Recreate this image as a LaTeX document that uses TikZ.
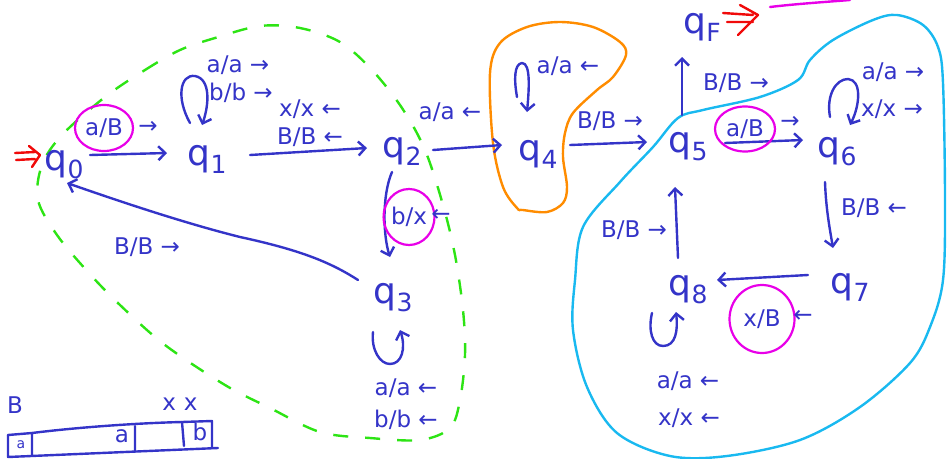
\documentclass[tikz,border=0pt]{standalone}
\usepackage{fontspec}
\setmainfont{DejaVu Sans}
\usetikzlibrary{arrows.meta,shapes.geometric}
\definecolor{ink}{RGB}{52,52,200}
\definecolor{grn}{RGB}{45,228,20}
\definecolor{mag}{RGB}{232,0,232}
\definecolor{org}{RGB}{255,140,0}
\definecolor{cyn}{RGB}{25,185,240}
\definecolor{rd}{RGB}{240,10,10}
\newcommand\qsub[2]{#1\kern0.5pt\raisebox{-0.45ex}{\fontsize{25}{25}\selectfont #2}}
\begin{document}
\begin{tikzpicture}[x=1pt,y=-1pt,
  state/.style={text=ink,font=\fontsize{36}{36}\selectfont,inner sep=0pt,anchor=base},
  lbl/.style={text=ink,font=\fontsize{23}{24}\selectfont,inner sep=0pt},
  circled/.style={lbl,draw=mag,line width=2.2pt,ellipse,inner sep=0pt},
  conn/.style={draw=ink,line width=2.4pt,line cap=round,line join=round,
    -{Straight Barb[length=7pt,width=14pt,line width=2.4pt]}},
  inkpen/.style={draw=ink,line width=2.4pt,line cap=round,line join=round},
  redpen/.style={draw=rd,line width=2.4pt,line cap=round,line join=round},
  greenblob/.style={draw=grn,line width=2.4pt,dash pattern=on 15pt off 17pt},
  orangeblob/.style={draw=org,line width=2.4pt},
  cyanblob/.style={draw=cyn,line width=2.4pt},
  magpen/.style={draw=mag,line width=2.4pt,line cap=round}]
\useasboundingbox (0,0) rectangle (947,458);

% regions
\draw[greenblob] plot[smooth cycle,tension=0.55] coordinates {(105,97) (145,70) (180,50) (215,38) (260,26) (300,28) (340,42) (372,70) (402,108) (425,150) (443,205) (455,255) (463,310) (465,355) (460,400) (450,428) (420,440) (370,438) (320,432) (270,408) (225,385) (165,345) (120,305) (88,272) (57,235) (38,200) (42,165) (62,135)};
\draw[orangeblob] plot[smooth cycle,tension=0.55] coordinates {(517,208) (503,187) (493,143) (490,73) (500,43) (527,27) (560,22) (593,27) (620,42) (626,55) (613,77) (597,90) (573,113) (565,133) (563,157) (567,187) (563,203) (547,212) (523,210)};
\draw[cyanblob] plot[smooth cycle,tension=0.55] coordinates {(620,182) (653,147) (678,118) (703,110) (760,97) (798,80) (810,60) (833,40) (873,20) (897,15) (923,25) (938,47) (943,83) (945,200) (943,280) (930,327) (910,363) (860,407) (800,440) (727,456) (670,456) (617,433) (587,387) (573,330) (575,280) (583,227)};
\draw[magpen] (770,7) .. controls (795,4) and (825,2) .. (850,0);

% states
\node[state] (q0) at (64,170) {\qsub{q}{0}};
\node[state] (q1) at (207,165) {\qsub{q}{1}};
\node[state] (q2) at (402,157) {\qsub{q}{2}};
\node[state] (q3) at (393,303) {\qsub{q}{3}};
\node[state] (q4) at (538,160) {\qsub{q}{4}};
\node[state] (q5) at (688,152) {\qsub{q}{5}};
\node[state] (q6) at (837,157) {\qsub{q}{6}};
\node[state] (q7) at (850,293) {\qsub{q}{7}};
\node[state] (q8) at (688,295) {\qsub{q}{8}};
\node[state] (qF) at (702,33) {\qsub{q}{F}};

% start / final markers
\draw[redpen] (15,153) -- (35,152) (16,160) -- (35,159) (29,146) -- (40,155) -- (32,167);
\draw[redpen] (723,13) -- (753,15) (727,22) -- (753,22) (740,5) -- (758,15) -- (738,35);

% transitions
\draw[conn] ([shift={(26,-15)}]q0.base) -- ([shift={(-40,-12)}]q1.base);
\draw[conn] ([shift={(43,-10)}]q1.base) -- ([shift={(-35,-9)}]q2.base);
\draw[conn] ([shift={(31,-7)}]q2.base) -- ([shift={(-36,-15)}]q4.base);
\draw[conn] ([shift={(32,-15)}]q4.base) -- ([shift={(-41,-10)}]q5.base);
\draw[conn] ([shift={(37,-9)}]q5.base) -- ([shift={(-34,-17)}]q6.base);
\draw[conn] ([shift={(-6,-37)}]q5.base) -- ([shift={(-20,24)}]qF.base);
\draw[conn] ([shift={(-12,25)}]q6.base) .. controls (826,210) and (830,230) .. ([shift={(-17,-45)}]q7.base);
\draw[conn] ([shift={(-42,-18)}]q7.base) -- ([shift={(29,-15)}]q8.base);
\draw[conn] ([shift={(-10,-37)}]q8.base) -- ([shift={(-13,35)}]q5.base);
\draw[conn] ([shift={(-10,15)}]q2.base) .. controls (382,195) and (383,235) .. ([shift={(-3,-46)}]q3.base);
\draw[conn] ([shift={(-35,-23)}]q3.base) .. controls (330,262) and (300,250) .. (240,237) .. controls (180,222) and (110,198) .. ([shift={(3,13)}]q0.base);

% self loops
\draw[conn] ([shift={(-17,-42)}]q1.base) .. controls (176,98) and (180,74) .. (195,76) .. controls (211,79) and (209,105) .. ([shift={(-5,-40)}]q1.base);
\draw[conn] ([shift={(-21,-63)}]q4.base) .. controls (514,80) and (514,64) .. (522,63) .. controls (531,63) and (529,90) .. ([shift={(-11,-48)}]q4.base);
\draw[conn] ([shift={(-7,-40)}]q6.base) .. controls (826,95) and (836,79) .. (848,79) .. controls (862,80) and (860,105) .. ([shift={(13,-32)}]q6.base);
\draw[conn] ([shift={(-20,29)}]q3.base) .. controls (371,350) and (380,364) .. (390,364) .. controls (402,364) and (406,348) .. ([shift={(7,27)}]q3.base);
\draw[conn] ([shift={(-36,18)}]q8.base) .. controls (648,330) and (652,346) .. (663,346) .. controls (676,346) and (678,330) .. ([shift={(-12,17)}]q8.base);

% labels
\node[circled,minimum width=58pt,minimum height=46pt] (l01) at (104,128) {a/B};
\node[lbl] (l01a) at (148,127) {→};
\node[lbl] (l11a) at (238,65) {a/a →};
\node[lbl] (l11b) at (241,93) {b/b →};
\node[lbl] (l12a) at (310,109) {x/x ←};
\node[lbl] (l12b) at (310,137) {B/B ←};
\node[lbl] (l24) at (450,112) {a/a ←};
\node[circled,minimum width=40pt,minimum height=56pt] (l23) at (409,217) {b/x};
\node[lbl] (l23a) at (441,215) {←};
\node[lbl] (l30) at (147,247) {B/B →};
\node[lbl] (l33a) at (406,388) {a/a ←};
\node[lbl] (l33b) at (406,420) {b/b ←};
\node[lbl] (l44) at (568,66) {a/a ←};
\node[lbl] (l45) at (610,121) {B/B →};
\node[lbl] (l5F) at (736,83) {B/B →};
\node[circled,minimum width=60pt,minimum height=45pt] (l56) at (745,129) {a/B};
\node[lbl] (l56a) at (790,122) {→};
\node[lbl] (l66a) at (893,72) {a/a →};
\node[lbl] (l66b) at (892,109) {x/x →};
\node[lbl] (l67) at (874,208) {B/B ←};
\node[circled,minimum width=65pt,minimum height=68pt] (l78) at (762,319) {x/B};
\node[lbl] (l78a) at (803,316) {←};
\node[lbl] (l85) at (634,230) {B/B →};
\node[lbl] (l88a) at (688,381) {a/a ←};
\node[lbl] (l88b) at (689,418) {x/x ←};

% tape
\draw[inkpen] (8,435) -- (32,433) .. controls (80,427) and (140,423) .. (182,422) -- (212,421) -- (212,448);
\draw[inkpen] (8,435) -- (8,457) -- (218,448);
\draw[inkpen] (32,433) -- (32,455) (135,426) -- (135,451) (182,422) -- (184,446);
\node[lbl] (tB) at (15,405) {B};
\node[lbl] (tx) at (180,404) {x\hspace{8pt}x};
\node[lbl,font=\fontsize{14}{14}\selectfont] (ta1) at (21,445) {a};
\node[lbl] (ta2) at (122,436) {a};
\node[lbl] (tb) at (200,432) {b};
\end{tikzpicture}
\end{document}
